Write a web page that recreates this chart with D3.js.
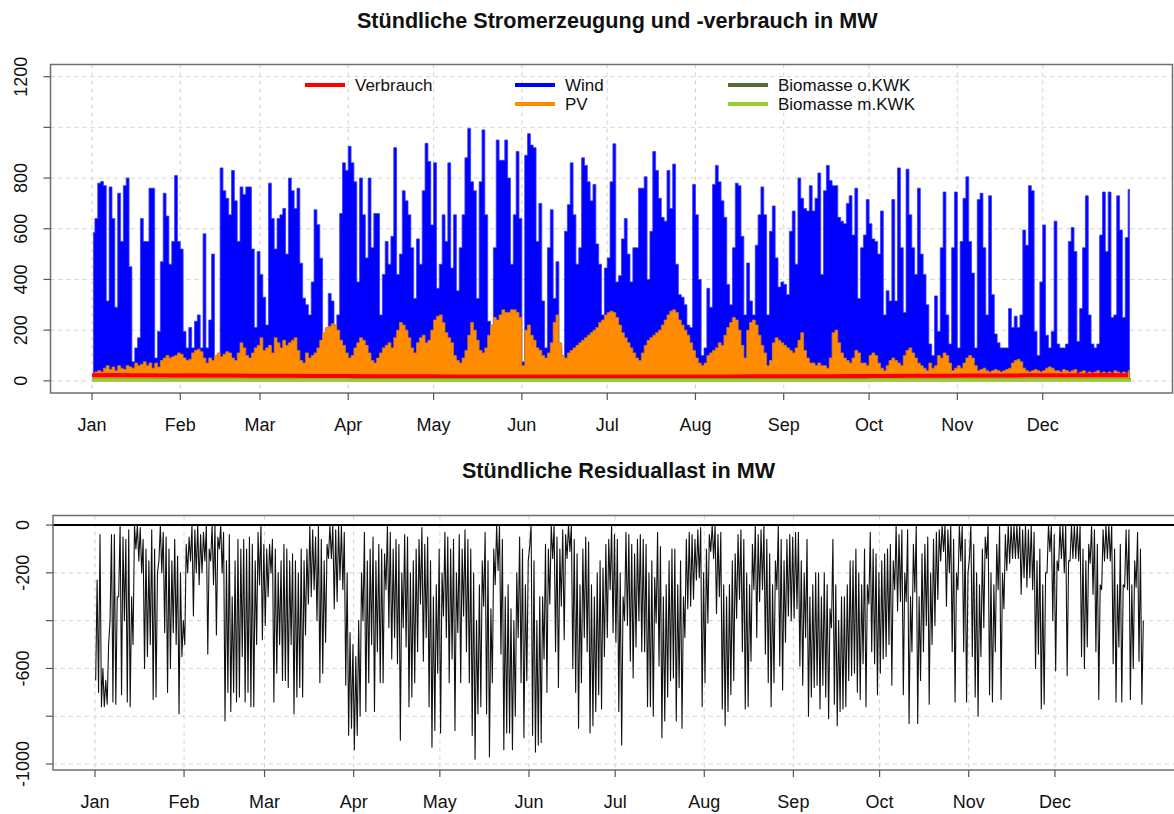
<!DOCTYPE html>
<html><head><meta charset="utf-8">
<script src="https://cdn.jsdelivr.net/npm/d3@7"></script>
<style>body{margin:0;background:#fff}</style>
</head><body><svg id="c" width="1174" height="814"></svg>
<script>
const monthLabels = ["Jan","Feb","Mar","Apr","May","Jun","Jul","Aug","Sep","Oct","Nov","Dec"];
const legendLabels = ["Verbrauch","Wind","PV","Biomasse o.KWK","Biomasse m.KWK"];
const titleTop = "Stündliche Stromerzeugung und -verbrauch in MW";
const titleBottom = "Stündliche Residuallast in MW";
const yTicksTop = [0,200,400,600,800,1000,1200];
const yLabelsTop = ["0","200","400","600","800","","1200"];
const yTicksBottom = [0,-200,-400,-600,-800,-1000];
const yLabelsBottom = ["0","-200","","-600","","-1000"];

// daily maximum wind generation (MW), Jan 1 .. Dec 31
const windMax = [
585,640,780,786,770,315,765,640,290,740,
550,770,800,450,75,130,170,640,550,550,
760,760,90,195,470,740,650,460,550,810,
550,520,195,130,210,130,235,260,130,580,
130,240,500,75,100,840,750,720,655,830,
710,550,765,735,765,765,520,210,510,420,
330,220,780,640,520,640,655,680,500,800,
750,680,760,464,326,300,260,390,675,616,
484,130,130,345,315,220,260,660,860,830,
925,860,785,390,800,655,485,800,525,660,
660,260,420,550,460,570,920,420,500,750,
710,655,525,325,560,460,750,937,865,615,
860,365,460,655,550,860,445,655,355,525,
655,880,996,785,750,325,785,990,655,235,
180,525,950,870,870,950,800,460,655,905,
640,75,890,975,930,920,550,700,315,130,
525,675,325,470,130,100,590,695,860,655,
460,525,880,850,785,710,775,540,460,260,
445,485,785,935,390,415,560,640,500,390,
525,525,760,760,805,400,590,905,830,720,
645,630,830,680,855,460,340,330,300,220,
210,775,655,400,100,130,365,290,775,850,
785,710,645,380,300,525,780,770,570,260,
465,315,260,535,655,765,655,260,590,690,
485,370,390,380,340,590,670,460,800,720,
680,670,770,670,720,820,420,750,850,790,
770,770,645,630,620,700,730,575,760,325,
525,575,715,620,560,550,500,670,260,355,
315,715,315,840,525,270,835,655,525,420,
760,500,420,300,145,100,335,195,525,745,
260,145,525,745,130,550,720,805,550,425,
130,715,740,525,260,730,340,185,150,130,
130,130,285,210,255,210,260,595,535,770,
750,195,100,390,615,180,130,195,630,145,
130,130,145,550,605,510,155,285,525,730,
260,145,130,145,575,745,510,745,250,260,
730,595,250,565,755];

// daily maximum PV generation (MW)
const pvMax = [
30,35,40,35,50,60,45,55,40,60,
50,45,60,55,50,70,60,65,75,60,
70,50,70,55,80,90,100,90,95,100,
110,105,90,80,85,110,120,125,115,90,
70,90,80,100,110,95,105,115,110,90,
80,110,150,130,100,90,110,130,140,170,
120,130,140,110,170,150,130,160,140,150,
160,170,120,80,70,110,90,100,110,130,
160,190,210,215,225,220,200,160,140,110,
90,100,130,150,170,160,140,110,80,70,
90,110,130,140,150,130,170,200,230,220,
200,170,130,110,150,170,180,150,160,200,
240,255,260,230,190,170,150,100,80,70,
90,120,180,230,200,160,120,110,130,180,
220,250,240,260,280,270,270,280,280,270,
250,60,200,220,180,160,130,120,100,90,
110,150,230,260,150,100,90,110,120,130,
140,150,160,170,180,190,200,210,230,240,
260,270,275,270,250,220,190,170,150,130,
110,90,80,110,140,160,170,180,190,200,
220,240,260,275,280,270,240,220,200,180,
150,120,90,70,60,70,100,110,120,130,
150,140,180,210,230,250,240,200,140,90,
200,230,240,220,180,140,110,60,80,150,
170,160,150,140,130,120,110,130,160,190,
120,90,70,70,60,70,60,60,50,90,
190,200,150,110,90,80,70,90,120,110,
70,70,60,100,110,100,70,50,40,60,
80,90,80,70,60,100,120,130,110,90,
70,60,50,40,70,50,60,100,90,110,
100,70,40,50,60,50,70,90,100,90,
60,40,45,50,40,35,40,45,40,35,
40,45,50,70,80,85,75,50,40,35,
40,45,40,35,40,50,55,50,40,40,
35,45,40,35,40,45,30,35,40,30,
35,30,35,40,30,35,30,35,30,40,
35,30,35,30,40];

// weekly consumption level (MW), week starts day 0,7,...,364
const verbrauchWeekly = [
22,23,22,22,21,22,21,21,20,20,
20,19,19,19,18,18,18,18,17,17,
17,17,17,17,17,17,17,17,17,17,
17,17,17,18,18,18,18,18,19,19,
19,20,20,20,21,21,21,22,22,22,
22,23,22];

// monthly biomass levels (MW)
const bioOhneKWK = [5,5,5,5,5,5,5,5,5,5,5,5];
const bioMitKWK = [3,3,3,2,2,2,2,2,2,3,3,3];

// daily residual load minimum / maximum (MW)
const residLow = [
-650,-700,-760,-760,-750,-400,-740,-750,-300,-710,
-400,-740,-760,-500,-100,-150,-200,-600,-550,-500,
-730,-720,-150,-200,-450,-700,-600,-450,-500,-790,
-550,-500,-200,-150,-380,-200,-250,-200,-150,-540,
-150,-250,-460,-100,-200,-820,-700,-780,-700,-740,
-720,-550,-740,-700,-760,-760,-500,-250,-480,-420,
-300,-200,-740,-620,-500,-650,-650,-680,-500,-790,
-720,-680,-720,-460,-330,-300,-270,-400,-660,-620,
-490,-140,-140,-350,-320,-230,-270,-670,-880,-850,
-940,-880,-800,-400,-780,-660,-500,-780,-530,-660,
-660,-270,-430,-560,-470,-580,-900,-430,-510,-760,
-720,-660,-530,-330,-570,-470,-760,-930,-860,-620,
-870,-380,-470,-660,-560,-860,-450,-660,-380,-530,
-660,-880,-980,-790,-760,-340,-790,-970,-660,-250,
-190,-540,-940,-870,-870,-940,-800,-470,-660,-890,
-650,-90,-880,-950,-920,-910,-560,-700,-330,-140,
-530,-680,-340,-480,-140,-110,-600,-700,-850,-660,
-470,-530,-870,-840,-780,-710,-770,-550,-470,-270,
-450,-490,-780,-920,-400,-420,-570,-640,-510,-400,
-530,-530,-760,-760,-800,-410,-590,-890,-820,-720,
-650,-640,-820,-680,-850,-470,-350,-340,-310,-230,
-220,-760,-660,-410,-110,-140,-370,-300,-770,-840,
-780,-710,-650,-390,-310,-530,-770,-760,-570,-270,
-470,-320,-270,-540,-660,-760,-660,-270,-590,-690,
-490,-380,-400,-390,-350,-590,-670,-470,-800,-720,
-680,-670,-770,-670,-720,-810,-430,-750,-840,-780,
-770,-760,-650,-630,-620,-700,-730,-580,-760,-330,
-530,-580,-710,-620,-560,-550,-500,-670,-270,-360,
-320,-710,-320,-830,-530,-280,-830,-650,-530,-420,
-750,-500,-420,-310,-150,-110,-340,-200,-530,-740,
-270,-150,-530,-740,-140,-550,-720,-800,-550,-430,
-140,-710,-740,-530,-270,-730,-350,-190,-160,-140,
-140,-140,-290,-220,-260,-220,-270,-600,-540,-770,
-750,-200,-110,-400,-610,-190,-140,-200,-630,-150,
-140,-140,-150,-550,-600,-510,-160,-290,-530,-730,
-270,-150,-140,-150,-580,-740,-510,-740,-260,-270,
-730,-600,-260,-570,-750];

const residHigh = [
-230,-40,-600,-650,-500,-40,-40,-300,0,-50,
-60,-20,-300,0,0,-10,-60,-100,-150,-20,
-100,-200,0,-30,-50,-100,-150,-60,-130,-200,
-400,-80,-50,0,-20,0,-40,-30,0,-100,
0,0,-50,0,-30,-150,-40,-300,-150,-60,
-100,-60,-100,-50,-80,-150,-30,0,-80,-100,
-80,-60,-100,-200,-150,-80,-100,-150,-120,-150,
-200,-100,-150,-100,0,-20,-50,0,-60,-150,
-80,0,0,-20,0,0,-30,-200,-450,-500,
-550,-400,-200,-30,-150,-100,-50,-150,-80,-100,
-120,0,-30,-100,-60,-80,-200,-40,-50,-200,
-150,-100,-60,-10,-80,-50,-150,-300,-250,-100,
-200,-30,-50,-100,-60,-200,-40,-100,-20,-60,
-100,-200,-400,-250,-150,-30,-150,-350,-100,0,
0,-60,-300,-250,-350,-400,-200,-50,-100,-250,
-150,0,-150,-400,-300,-300,-80,-100,0,0,
-50,-100,-20,-40,0,0,-60,-120,-250,-100,
-50,-70,-250,-300,-200,-150,-180,-80,-60,0,
-40,-60,-200,-300,-30,-40,-80,-120,-60,-40,
-60,-80,-200,-150,-220,-30,-90,-300,-250,-150,
-100,-100,-250,-150,-300,-60,-30,-40,-60,-20,
-10,-200,-100,-40,0,0,-40,-30,-250,-300,
-250,-150,-120,-40,-20,-60,-200,-250,-80,0,
-40,-20,0,-60,-120,-250,-150,0,-60,-150,
-60,-40,-50,-30,-30,-150,-200,-60,-300,-250,
-200,-200,-300,-200,-250,-350,-60,-250,-400,-300,
-300,-250,-150,-150,-100,-200,-250,-100,-250,-30,
-100,-120,-200,-150,-120,-100,-80,-150,0,-40,
-20,-200,-20,-300,-80,0,-300,-120,-80,-50,
-200,-60,-30,-20,0,0,-20,0,-60,-200,
0,0,-60,-200,0,-80,-200,-250,-100,-50,
0,-200,-250,-80,0,-200,-40,0,0,0,
0,0,-20,0,-20,0,-30,-150,-100,-250,
-200,0,0,-40,-150,0,0,0,-150,0,
0,0,0,-100,-150,-80,0,-20,-80,-250,
-20,0,0,0,-100,-250,-80,-250,-20,-20,
-250,-150,-30,-100,-400];

const colors = {verbrauch:"#ff0000", wind:"#0000ff", pv:"#ff8c00", bioO:"#556b2f", bioM:"#9acd32"};
const FONT = "'Liberation Sans', Arial, Helvetica, sans-serif";

const svg = d3.select("#c");
svg.append("rect").attr("width",1174).attr("height",814).attr("fill","#fff");

const DAY = 864e5;
const t0 = Date.UTC(2015,0,1);
const dt = d => new Date(t0 + d*DAY);
const span = 365;
const xDomain = [dt(-0.04*span), dt(span*1.04)];
const monthTicks = d3.utcMonth.range(dt(0), dt(365));

function panel(cfg){
  const g = svg.append("g");
  const x = d3.scaleUtc().domain(xDomain).range([cfg.left, cfg.right]);
  const y = d3.scaleLinear().domain(cfg.yDomain).range([cfg.bottom, cfg.top]);
  const clipId = "clip"+cfg.id;
  svg.append("clipPath").attr("id",clipId).append("rect")
    .attr("x",cfg.left).attr("y",cfg.top).attr("width",cfg.right-cfg.left).attr("height",cfg.bottom-cfg.top);
  const grid = g.append("g").attr("clip-path",`url(#${clipId})`)
    .attr("stroke","#d3d3d3").attr("stroke-width",1).attr("stroke-dasharray","4,4");
  grid.selectAll("line.h").data(cfg.yTicks).join("line")
    .attr("x1",cfg.left).attr("x2",cfg.right).attr("y1",d=>y(d)).attr("y2",d=>y(d));
  grid.selectAll("line.v").data(monthTicks).join("line")
    .attr("x1",d=>x(d)).attr("x2",d=>x(d)).attr("y1",cfg.top).attr("y2",cfg.bottom);
  const plot = g.append("g").attr("clip-path",`url(#${clipId})`);
  g.append("rect").attr("x",cfg.left).attr("y",cfg.top).attr("width",cfg.right-cfg.left).attr("height",cfg.bottom-cfg.top)
    .attr("fill","none").attr("stroke","#6e6e6e").attr("stroke-width",1.5);
  const ya = g.append("g");
  ya.selectAll("line").data(cfg.yTicks).join("line")
    .attr("x1",cfg.left).attr("x2",cfg.left-7).attr("y1",d=>y(d)).attr("y2",d=>y(d))
    .attr("stroke","#555").attr("stroke-width",1.2);
  ya.selectAll("text").data(cfg.yTicks).join("text")
    .attr("transform",d=>`translate(${cfg.left-24},${y(d)}) rotate(-90)`)
    .attr("text-anchor","middle").attr("font-family",FONT).attr("font-size",18).attr("fill","#111")
    .text((d,i)=>cfg.yLabels[i]);
  const xa = g.append("g");
  xa.selectAll("line").data(monthTicks).join("line")
    .attr("x1",d=>x(d)).attr("x2",d=>x(d)).attr("y1",cfg.bottom).attr("y2",cfg.bottom+7)
    .attr("stroke","#555").attr("stroke-width",1.2);
  xa.selectAll("text").data(monthTicks).join("text")
    .attr("x",d=>x(d)).attr("y",cfg.bottom+38).attr("text-anchor","middle")
    .attr("font-family",FONT).attr("font-size",18).attr("fill","#111")
    .text((d,i)=>monthLabels[i]);
  svg.append("text").attr("x",(cfg.left+Math.min(cfg.right,1172))/2+6).attr("y",cfg.titleY)
    .attr("text-anchor","middle").attr("font-family",FONT).attr("font-weight","bold")
    .attr("font-size",21.6).attr("fill","#111").text(cfg.title);
  return {x,y,plot};
}

// ---------- top panel ----------
const topP = panel({id:"t", left:50.5, right:1172.5, top:64.5, bottom:393,
  yDomain:[-48,1248], yTicks:yTicksTop, yLabels:yLabelsTop, title:titleTop, titleY:28});

const days = d3.range(365);
const dayArea = arr => d3.area().curve(d3.curveStep)
  .x(d=>topP.x(dt(d+0.5))).y0(topP.y(0)).y1(d=>topP.y(arr[d]));
topP.plot.append("path").datum(days).attr("d",dayArea(windMax))
  .attr("fill",colors.wind).attr("stroke","#3a3aff").attr("stroke-width",0.8);
topP.plot.append("path").datum(days).attr("d",dayArea(pvMax))
  .attr("fill",colors.pv).attr("stroke","#d07a20").attr("stroke-width",0.8);

const vPts = verbrauchWeekly.map((v,i)=>[Math.min(i*7,364.9), v]);
topP.plot.append("path").datum(vPts)
  .attr("d",d3.line().x(p=>topP.x(dt(p[0]))).y(p=>topP.y(p[1])))
  .attr("fill","none").attr("stroke",colors.verbrauch).attr("stroke-width",4);

const monthStarts = [0,31,59,90,120,151,181,212,243,273,304,334,365];
function monthlyPts(arr){ const pts = arr.map((v,i)=>[monthStarts[i],v]); pts.push([365,arr[11]]); return pts; }
const stepLine = d3.line().curve(d3.curveStepAfter).x(p=>topP.x(dt(p[0]))).y(p=>topP.y(p[1]));
topP.plot.append("path").datum(monthlyPts(bioOhneKWK)).attr("d",stepLine)
  .attr("fill","none").attr("stroke",colors.bioO).attr("stroke-width",3);
topP.plot.append("path").datum(monthlyPts(bioMitKWK)).attr("d",stepLine)
  .attr("fill","none").attr("stroke",colors.bioM).attr("stroke-width",3.5);

const legendItems = [
  {label:legendLabels[0], color:colors.verbrauch, x:305, y:85},
  {label:legendLabels[1], color:colors.wind, x:515, y:85},
  {label:legendLabels[2], color:colors.pv, x:515, y:104},
  {label:legendLabels[3], color:colors.bioO, x:728, y:85},
  {label:legendLabels[4], color:colors.bioM, x:728, y:104}
];
const lg = svg.append("g");
legendItems.forEach(it=>{
  lg.append("line").attr("x1",it.x).attr("x2",it.x+40).attr("y1",it.y).attr("y2",it.y)
    .attr("stroke",it.color).attr("stroke-width",4);
  lg.append("text").attr("x",it.x+50).attr("y",it.y+6).attr("font-family",FONT)
    .attr("font-size",17).attr("fill","#111").text(it.label);
});

// ---------- bottom panel ----------
const botP = panel({id:"b", left:53, right:1186, top:515.5, bottom:770,
  yDomain:[-1025,40], yTicks:yTicksBottom, yLabels:yLabelsBottom, title:titleBottom, titleY:478});

const rPts = [];
days.forEach(d=>{ rPts.push([d+0.25, residLow[d]]); rPts.push([d+0.75, residHigh[d]]); });
botP.plot.append("path").datum(rPts)
  .attr("d",d3.line().x(p=>botP.x(dt(p[0]))).y(p=>botP.y(p[1])))
  .attr("fill","none").attr("stroke","#111").attr("stroke-width",1.1).attr("stroke-linejoin","round");
botP.plot.append("line").attr("x1",53).attr("x2",1186).attr("y1",botP.y(0)).attr("y2",botP.y(0))
  .attr("stroke","#000").attr("stroke-width",2);
</script></body></html>
